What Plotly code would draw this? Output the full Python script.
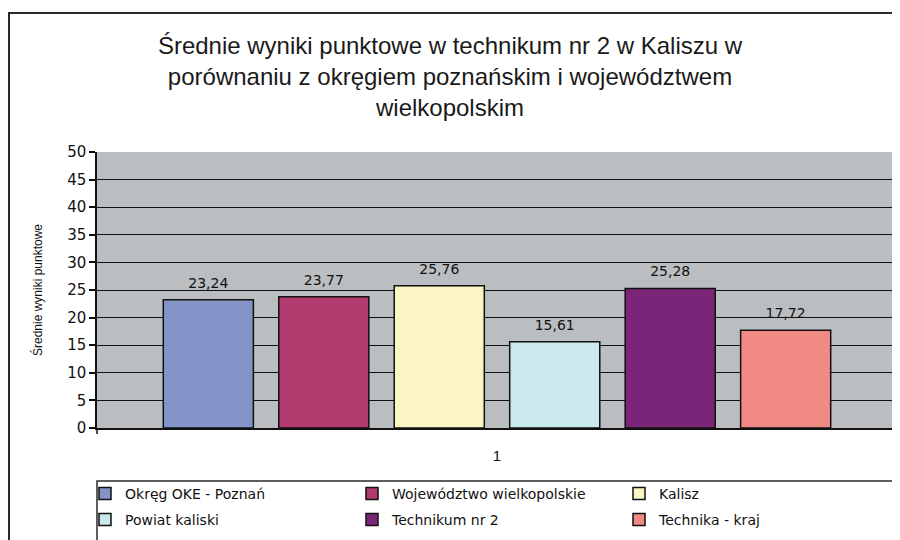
import plotly.graph_objects as go

# Data
categories = ["1"]
series_names = ["Okręg OKE - Poznań", "Województwo wielkopolskie", "Kalisz",
                "Powiat kaliski", "Technikum nr 2", "Technika - kraj"]
series_values = [23.24, 23.77, 25.76, 15.61, 25.28, 17.72]
series_colors = ["#8494C9", "#B13A6F", "#FBF5C3", "#C9E9EC", "#7A2577", "#F28A84"]
legend_rows = ["legend", "legend", "legend", "legend2", "legend2", "legend2"]
y_ticks = list(range(0, 55, 5))

FONT = "Liberation Sans, Arial, sans-serif"
WIDE = "DejaVu Sans, Verdana, sans-serif"

# page body has an 8px margin, so the figure is 892x532 and sits at (8, 8)
W, H = 892, 532
OFF = 8

fig = go.Figure()
for i, (name, val, col, lg) in enumerate(zip(series_names, series_values, series_colors, legend_rows)):
    fig.add_trace(go.Bar(
        x=categories, y=[val], name=name,
        marker=dict(color=col, line=dict(color="#111111", width=1.5)),
        offsetgroup=str(i), legend=lg,
    ))
# value labels, a bit higher above the bars than plotly's "outside" text
for i, val in enumerate(series_values):
    fig.add_trace(go.Scatter(
        x=categories, y=[val], mode="markers+text",
        marker=dict(size=12, opacity=0),
        texttemplate="%{y:.2f}", textposition="top center",
        textfont=dict(family=WIDE, size=14, color="#111111"),
        offsetgroup=str(i), showlegend=False, hoverinfo="skip",
        cliponaxis=False,
    ))

# plot area on screen: x 97..897 px, y 152..428 px
H_PLOT = 276.0
W_PLOT = 800.0

def px_y(y):
    return (428 - y) / H_PLOT

def px_x(x):
    return (x - 97) / W_PLOT

shapes = [
    # outer chart border
    dict(type="rect", xref="paper", yref="paper",
         x0=px_x(9), x1=px_x(910), y0=px_y(560), y1=px_y(13),
         line=dict(color="#2a2a2a", width=2), layer="below"),
    # legend box
    dict(type="rect", xref="paper", yref="paper",
         x0=px_x(97), x1=px_x(893), y0=px_y(560), y1=px_y(481),
         line=dict(color="#2a2a2a", width=1.5)),
    # x axis end ticks
    dict(type="line", xref="paper", yref="paper",
         x0=0, x1=0, y0=px_y(428), y1=px_y(434), line=dict(color="#111111", width=1.5)),
    dict(type="line", xref="paper", yref="paper",
         x0=1, x1=1, y0=px_y(428), y1=px_y(434), line=dict(color="#111111", width=1.5)),
]

legend_style = dict(orientation="h", xref="container", yref="container",
                    xanchor="left", yanchor="top", entrywidth=222,
                    font=dict(family=WIDE, size=14, color="#111111"),
                    bgcolor="rgba(0,0,0,0)", traceorder="normal",
                    itemwidth=30)

fig.update_layout(
    width=W, height=H,
    margin=dict(l=97 - OFF, r=W - (897 - OFF), t=152 - OFF, b=H - (428 - OFF), autoexpand=False),
    paper_bgcolor="white",
    plot_bgcolor="#BABEC1",
    separators=",.",
    font=dict(family=FONT, color="#111111"),
    title=dict(
        text="Średnie wyniki punktowe w technikum nr 2 w Kaliszu w<br>"
             "porównaniu z okręgiem poznańskim i województwem<br>wielkopolskim",
        x=(450 - OFF) / W, xanchor="center", xref="container",
        y=1 - 46 / H, yanchor="top", yref="container",
        font=dict(family=FONT, size=24, color="#1a1a1a"),
    ),
    barmode="group", bargap=0.134, bargroupgap=0.22,
    scattermode="group", scattergap=0.134,
    showlegend=True,
    legend=dict(x=(85 - OFF) / W, y=1 - (478 - OFF) / H, **legend_style),
    legend2=dict(x=(85 - OFF) / W, y=1 - (504 - OFF) / H, **legend_style),
    xaxis=dict(
        type="category", showgrid=False, ticks="",
        showline=True, linecolor="#111111", linewidth=1.5,
        tickfont=dict(family=FONT, size=15, color="#111111"),
        ticklabelstandoff=13, automargin=False,
    ),
    yaxis=dict(
        range=[0, 50], tickvals=y_ticks, showgrid=True,
        gridcolor="#111111", gridwidth=1.2,
        showline=True, linecolor="#111111", linewidth=1.5,
        ticks="outside", ticklen=6, tickcolor="#111111", tickwidth=1.5,
        tickfont=dict(family=WIDE, size=15, color="#111111"),
        zeroline=False, automargin=False,
        title=dict(text="Średnie wyniki punktowe", standoff=22,
                   font=dict(family=FONT, size=12, color="#111111")),
    ),
    shapes=shapes,
)

fig.write_html("out.html")
